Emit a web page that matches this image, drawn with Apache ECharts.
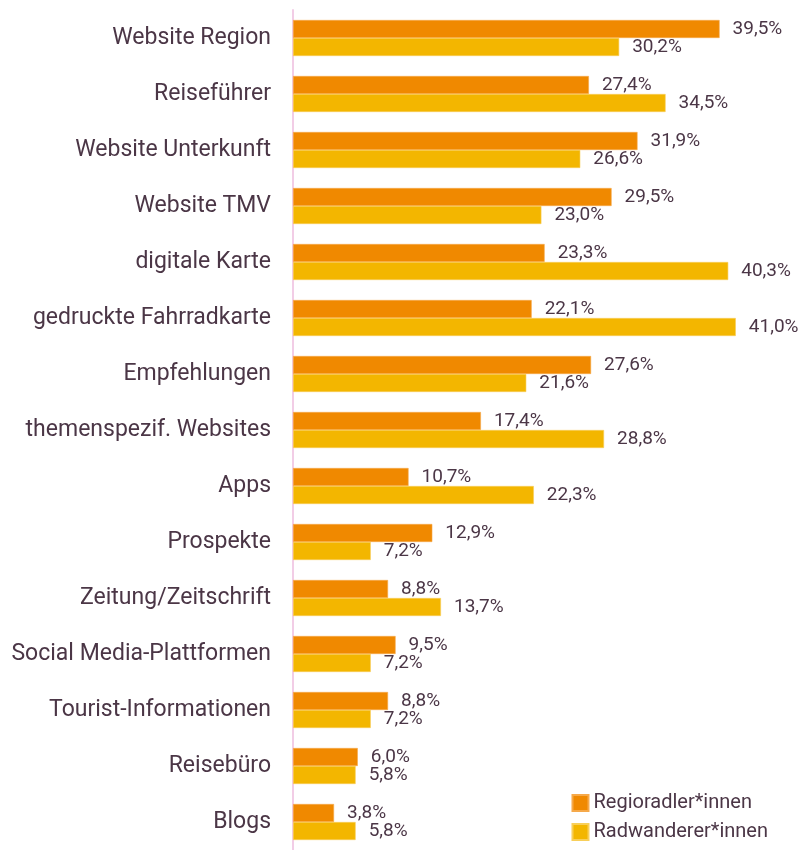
<!DOCTYPE html>
<html>
<head>
<meta charset="utf-8">
<script src="https://cdn.jsdelivr.net/npm/echarts@6/dist/echarts.min.js"></script>
<style>
html,body{margin:0;padding:0;background:#fff;}
#chart{width:803px;height:850px;}
</style>
</head>
<body>
<div id="chart"></div>
<script>
var categories = ['Website Region','Reiseführer','Website Unterkunft','Website TMV','digitale Karte','gedruckte Fahrradkarte','Empfehlungen','themenspezif. Websites','Apps','Prospekte','Zeitung/Zeitschrift','Social Media-Plattformen','Tourist-Informationen','Reisebüro','Blogs']
var regioradler = [39.5,27.4,31.9,29.5,23.3,22.1,27.6,17.4,10.7,12.9,8.8,9.5,8.8,6.0,3.8]
var radwanderer = [30.2,34.5,26.6,23.0,40.3,41.0,21.6,28.8,22.3,7.2,13.7,7.2,7.2,5.8,5.8]

var textColor = '#4b3646'
function fmt(p){
    return p.value.toFixed(1).replace('.', ',') + '%'
}
var myChart = echarts.init(document.getElementById('chart'))
var option = {
    animation:false,
    color:['#F08900','#F3B600'],
    textStyle:{fontFamily:'Roboto'},
    legend:{
        orient:'vertical',
        right:30,
        bottom:3,
        itemWidth:16,
        itemHeight:16,
        itemGap:9,
        icon:'rect',
        textStyle:{color:textColor,fontSize:20,fontFamily:'Roboto'}
    },
    grid:{
        left:293,
        top:10,
        width:486,
        height:845
    },
    xAxis:{
        type:'value',
        min:0,
        max:45,
        show:false
    },
    yAxis:{
        type:'category',
        inverse:true,
        data:categories,
        axisLine:{lineStyle:{color:'#F2CDE6',width:2}},
        axisTick:{show:false},
        axisLabel:{color:textColor,fontSize:23,margin:22,fontFamily:'Roboto'}
    },
    series:[
        {
            name:'Regioradler*innen',
            type:'bar',
            barWidth:18,
            barGap:0,
            itemStyle:{borderColor:'#F6A94A',borderWidth:0.6},
            label:{show:true,position:'right',distance:13,color:textColor,fontSize:19,formatter:fmt},
            data:regioradler
        },
        {
            name:'Radwanderer*innen',
            type:'bar',
            barWidth:18,
            barGap:0,
            itemStyle:{borderColor:'#F8CF5A',borderWidth:0.6},
            label:{show:true,position:'right',distance:13,color:textColor,fontSize:19,formatter:fmt},
            data:radwanderer
        }
    ]
}
myChart.setOption(option)
</script>
</body>
</html>
